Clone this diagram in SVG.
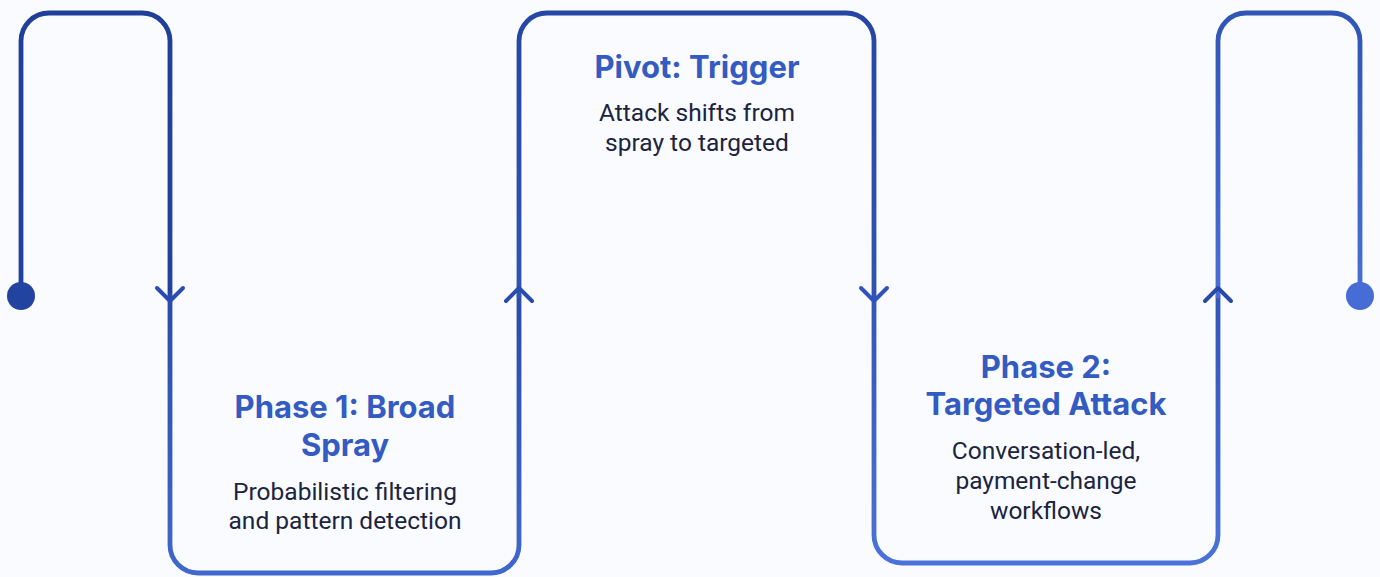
<svg xmlns="http://www.w3.org/2000/svg" width="1380" height="577" viewBox="0 0 1380 577">
<defs>
<linearGradient id="g1" gradientUnits="userSpaceOnUse" x1="0" y1="13" x2="0" y2="296"><stop offset="0" stop-color="#1f3f99"/><stop offset="1" stop-color="#22429f"/></linearGradient>
<linearGradient id="g2" gradientUnits="userSpaceOnUse" x1="0" y1="296" x2="0" y2="575"><stop offset="0" stop-color="#2a4bab"/><stop offset="1" stop-color="#4068cc"/></linearGradient>
<linearGradient id="g3" gradientUnits="userSpaceOnUse" x1="0" y1="13" x2="0" y2="296"><stop offset="0" stop-color="#2546a4"/><stop offset="1" stop-color="#3054b4"/></linearGradient>
<linearGradient id="g4" gradientUnits="userSpaceOnUse" x1="0" y1="296" x2="0" y2="563"><stop offset="0" stop-color="#3156b8"/><stop offset="1" stop-color="#4a72d8"/></linearGradient>
<linearGradient id="g5" gradientUnits="userSpaceOnUse" x1="0" y1="13" x2="0" y2="296"><stop offset="0" stop-color="#2f55b5"/><stop offset="1" stop-color="#486fd6"/></linearGradient>
</defs>
<style>
.ln{fill:none;stroke-width:4.8;stroke-linecap:round;stroke-linejoin:round}
.ar{fill:none;stroke-width:4;stroke-linecap:round;stroke-linejoin:round}
.t{font-family:Inter,"Liberation Sans",sans-serif;font-weight:700;font-size:31px;fill:#335bc2;text-anchor:middle}
.b{font-family:Roboto,"Liberation Sans",sans-serif;font-size:24.5px;fill:#1b2440;text-anchor:middle}
</style>
<rect width="1380" height="577" fill="#f9fbfe"/>
<g id="connectors">
<path class="ln" stroke="url(#g1)" d="M21,296 V41 A28,28 0 0 1 49,13 H142 A28,28 0 0 1 170,41 V296"/>
<path class="ln" stroke="url(#g2)" d="M170,296 V545 A28,28 0 0 0 198,573 H491 A28,28 0 0 0 519,545 V296"/>
<path class="ln" stroke="url(#g3)" d="M519,296 V41 A28,28 0 0 1 547,13 H846 A28,28 0 0 1 874,41 V296"/>
<path class="ln" stroke="url(#g4)" d="M874,296 V535 A28,28 0 0 0 902,563 H1190 A28,28 0 0 0 1218,535 V296"/>
<path class="ln" stroke="url(#g5)" d="M1218,296 V41 A28,28 0 0 1 1246,13 H1332 A28,28 0 0 1 1360,41 V296"/>
<path class="ar" stroke="#2a4bb0" d="M157,288 L170,301 L183,288"/>
<path class="ar" stroke="#2a4bb0" d="M506,301 L519,288 L532,301"/>
<path class="ar" stroke="#2f53b8" d="M861,288 L874,301 L887,288"/>
<path class="ar" stroke="#2848aa" d="M1205,301 L1218,288 L1231,301"/>
<circle cx="21" cy="296" r="14" fill="#2343a0"/>
<circle cx="1360" cy="296" r="14" fill="#466dd6"/>
</g>
<g id="phase1">
<text class="t" x="345" y="418">Phase 1: Broad</text>
<text class="t" x="345" y="456">Spray</text>
<text class="b" x="345" y="500">Probabilistic filtering</text>
<text class="b" x="345" y="529">and pattern detection</text>
</g>
<g id="pivot">
<text class="t" x="697" y="78">Pivot: Trigger</text>
<text class="b" x="697" y="121">Attack shifts from</text>
<text class="b" x="697" y="150.5">spray to targeted</text>
</g>
<g id="phase2">
<text class="t" x="1046" y="378">Phase 2:</text>
<text class="t" x="1046" y="415">Targeted Attack</text>
<text class="b" x="1046" y="459">Conversation-led,</text>
<text class="b" x="1046" y="489">payment-change</text>
<text class="b" x="1046" y="518.5">workflows</text>
</g>
</svg>
